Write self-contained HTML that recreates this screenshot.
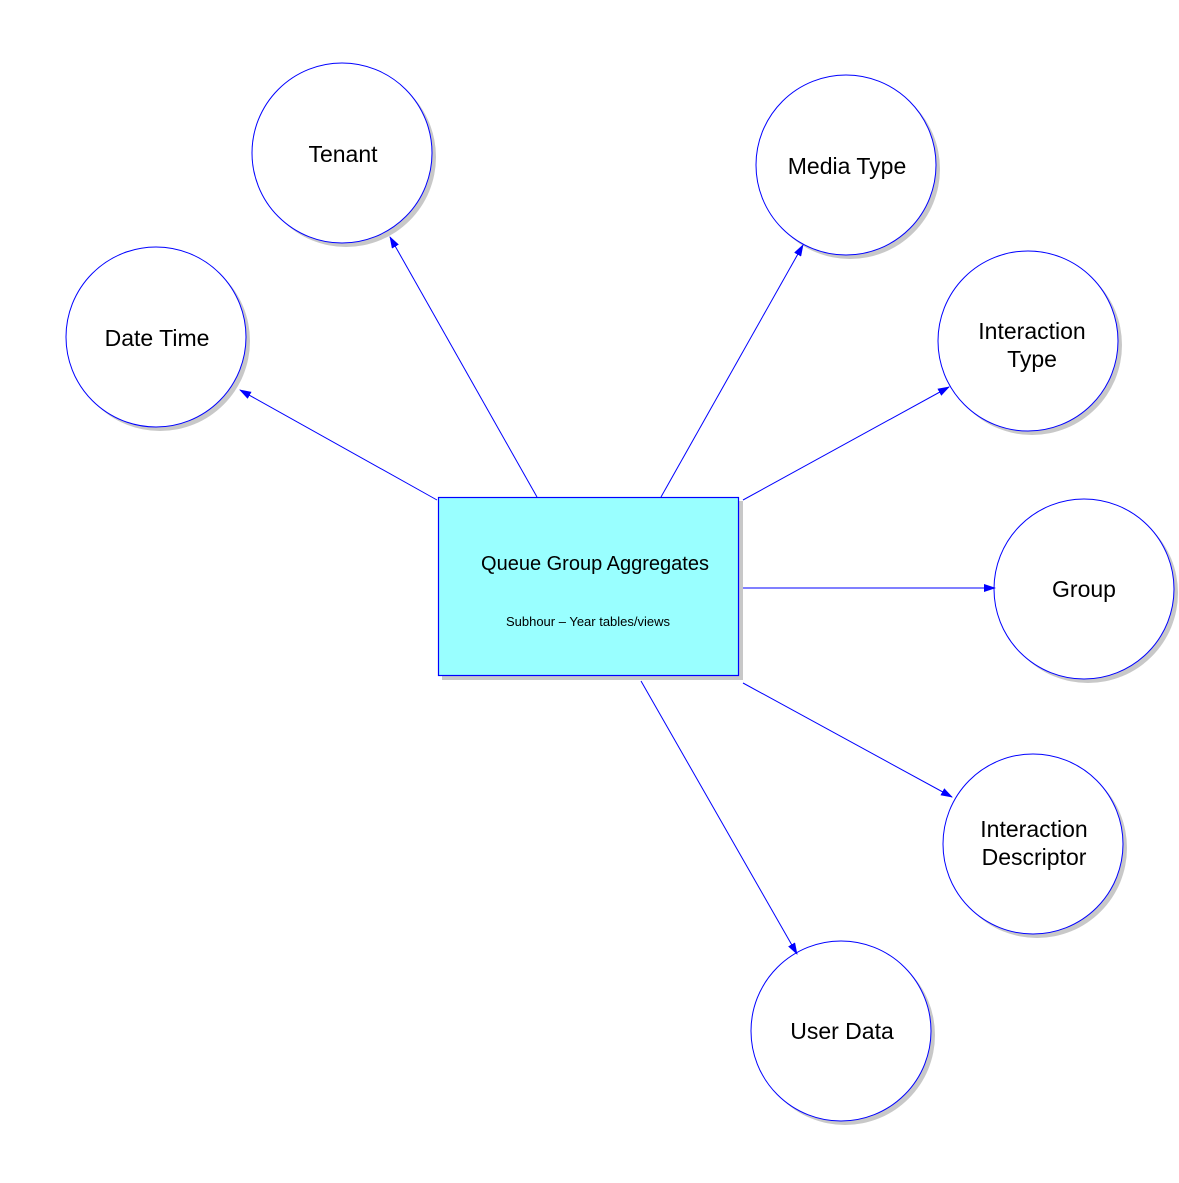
<!DOCTYPE html>
<html><head><meta charset="utf-8"><style>
html,body{margin:0;padding:0;background:#fff;width:1179px;height:1183px;overflow:hidden}
</style></head><body>
<svg width="1179" height="1183" xmlns="http://www.w3.org/2000/svg" font-family="Liberation Sans, Arial, sans-serif">
<defs>
<marker id="a" markerWidth="12" markerHeight="8" refX="11" refY="4" orient="auto" markerUnits="userSpaceOnUse">
<path d="M0,0 L12,4 L0,8 z" fill="#0000ff"/>
</marker>
</defs>
<g fill="#c8c8c8">
<circle cx="346" cy="157" r="90"/>
<circle cx="850" cy="169" r="90"/>
<circle cx="160" cy="341" r="90"/>
<circle cx="1032" cy="345" r="90"/>
<circle cx="1088" cy="593" r="90"/>
<circle cx="1037" cy="848" r="90"/>
<circle cx="845" cy="1035" r="90"/>
<rect x="442" y="501" width="301" height="179"/>
</g>
<g fill="#fff" stroke="#0000ff" stroke-width="1">
<circle cx="342" cy="153" r="90"/>
<circle cx="846" cy="165" r="90"/>
<circle cx="156" cy="337" r="90"/>
<circle cx="1028" cy="341" r="90"/>
<circle cx="1084" cy="589" r="90"/>
<circle cx="1033" cy="844" r="90"/>
<circle cx="841" cy="1031" r="90"/>
</g>
<rect x="438.5" y="497.5" width="300" height="178" fill="#99ffff" stroke="#0000ff" stroke-width="1.2"/>
<g stroke="#0000ff" stroke-width="1" marker-end="url(#a)">
<line x1="437" y1="500" x2="240" y2="390"/>
<line x1="537" y1="497" x2="390" y2="237"/>
<line x1="661" y1="497" x2="803" y2="245"/>
<line x1="743" y1="500" x2="949" y2="387"/>
<line x1="743" y1="588" x2="995" y2="588"/>
<line x1="743" y1="683" x2="952" y2="797"/>
<line x1="641" y1="681" x2="797" y2="954"/>
</g>
<g fill="#000" font-size="23" text-anchor="middle">
<text x="343" y="162">Tenant</text>
<text x="847" y="174">Media Type</text>
<text x="157" y="346">Date Time</text>
<text x="1032" y="339">Interaction</text>
<text x="1032" y="367">Type</text>
<text x="1084" y="597">Group</text>
<text x="1034" y="837">Interaction</text>
<text x="1034" y="865">Descriptor</text>
<text x="842" y="1039">User Data</text>
<text x="595" y="570" font-size="20">Queue Group Aggregates</text>
<text x="588" y="626" font-size="13">Subhour – Year tables/views</text>
</g>
</svg>
</body></html>
